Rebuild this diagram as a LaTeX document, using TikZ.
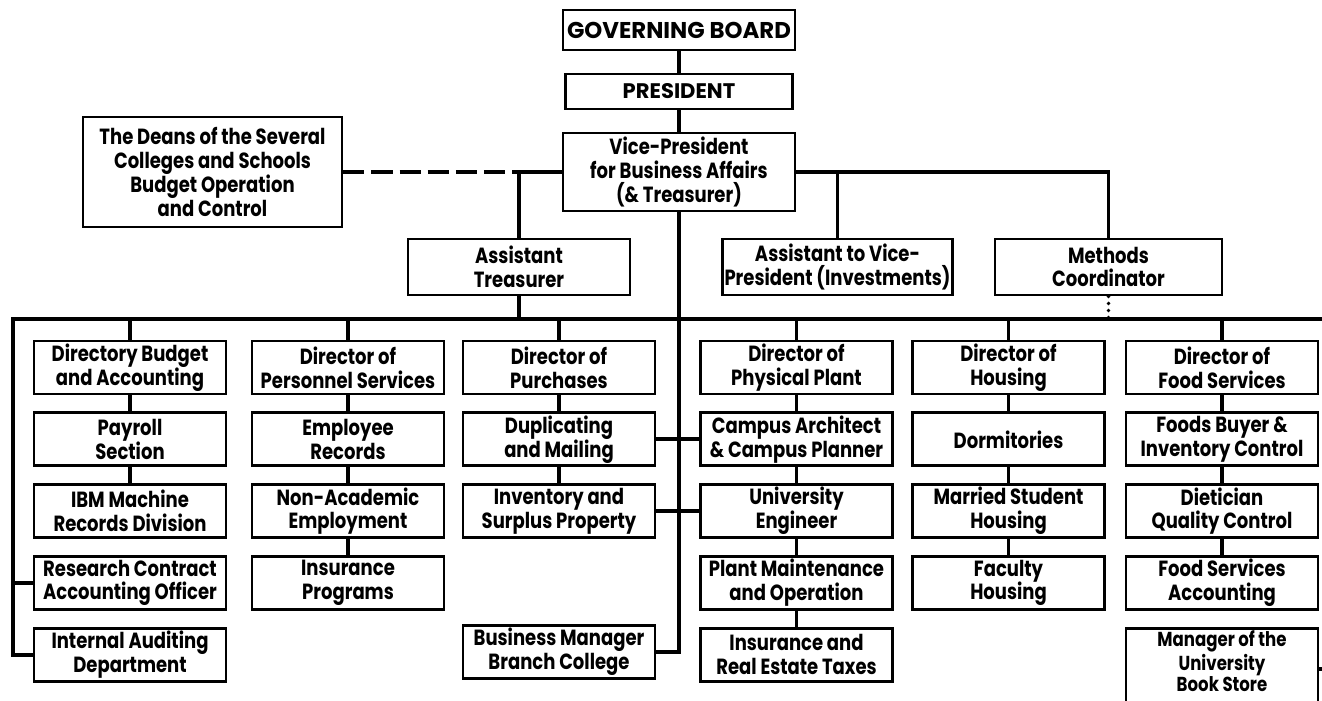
\documentclass[tikz,border=0pt]{standalone}
\usepackage{fontspec}
\setmainfont{Poppins}[FakeStretch=0.82]
\newfontfamily\widecaps{Poppins}
\usetikzlibrary{positioning}

\tikzset{
  office/.style={draw, line width=1.6pt, align=center, inner sep=1pt,
    font=\bfseries\fontsize{12.5}{13.6}\selectfont},
  dept/.style={office, minimum width=3.84cm, minimum height=1.06cm},
  link/.style={line width=2.2pt},
}

\begin{document}
\begin{tikzpicture}[x=0.02cm, y=-0.02cm]
    \useasboundingbox (0,0) rectangle (1322,700);
    \fill[white] (0,0) rectangle (1322,700);
    \clip (0,0) rectangle (1322,700);

    % top of the chart
    \node[office, minimum width=4.64cm, minimum height=0.8cm, font=\widecaps\bfseries\fontsize{13}{15}\selectfont] (gb) at (679,30) {GOVERNING BOARD};
    \node[office, minimum width=4.54cm, minimum height=0.7cm, font=\widecaps\bfseries\fontsize{12}{14}\selectfont] (pres) at (679,91.5) {PRESIDENT};
    \node[office, minimum width=4.64cm, minimum height=1.56cm] (vp) at (679,172) {Vice-President\\for Business Affairs\\(\& Treasurer)};
    \node[office, minimum width=5.18cm, minimum height=2.2cm] (deans) at (212.5,172) {The Deans of the Several\\Colleges and Schools\\Budget Operation\\and Control};
    \node[office, minimum width=4.44cm, minimum height=1.12cm] (atr) at (519,267) {Assistant\\Treasurer};
    \node[office, minimum width=4.46cm, minimum height=1.12cm] (avp) at (837.5,267) {Assistant to Vice-\\President (Investments)};
    \node[office, minimum width=4.54cm, minimum height=1.12cm] (mc) at (1108.5,267) {Methods\\Coordinator};

    % budget and accounting
    \node[dept] (dba) at (130,367.5) {Directory Budget\\and Accounting};
    \node[dept, below=0.32cm of dba] (pay) {Payroll\\Section};
    \node[dept, below=0.32cm of pay] (ibm) {IBM Machine\\Records Division};
    \node[dept, below=0.32cm of ibm] (rca) {Research Contract\\Accounting Officer};
    \node[dept, below=0.32cm of rca] (iad) {Internal Auditing\\Department};

    % personnel
    \node[dept] (dps) at (348,367.5) {Director of\\Personnel Services};
    \node[dept, below=0.32cm of dps] (emp) {Employee\\Records};
    \node[dept, below=0.32cm of emp] (nae) {Non-Academic\\Employment};
    \node[dept, below=0.32cm of nae] (ins) {Insurance\\Programs};

    % purchases
    \node[dept] (dpu) at (559,367.5) {Director of\\Purchases};
    \node[dept, below=0.32cm of dpu] (dup) {Duplicating\\and Mailing};
    \node[dept, below=0.32cm of dup] (inv) {Inventory and\\Surplus Property};
    \node[dept] (bmbc) at (559,652) {Business Manager\\Branch College};

    % physical plant
    \node[dept] (dpp) at (796.5,367.5) {Director of\\Physical Plant};
    \node[dept, below=0.32cm of dpp] (caa) {Campus Architect\\\& Campus Planner};
    \node[dept, below=0.32cm of caa] (ue) {University\\Engineer};
    \node[dept, below=0.32cm of ue] (pmo) {Plant Maintenance\\and Operation};
    \node[dept, below=0.32cm of pmo] (iret) {Insurance and\\Real Estate Taxes};

    % housing
    \node[dept] (dh) at (1008.5,367.5) {Director of\\Housing};
    \node[dept, below=0.32cm of dh] (dorm) {Dormitories};
    \node[dept, below=0.32cm of dorm] (msh) {Married Student\\Housing};
    \node[dept, below=0.32cm of msh] (fh) {Faculty\\Housing};

    % food services, the book store runs off the bottom edge
    \node[dept] (dfs) at (1222,367.5) {Director of\\Food Services};
    \node[dept, below=0.32cm of dfs] (fbi) {Foods Buyer \&\\Inventory Control};
    \node[dept, below=0.32cm of fbi] (dqc) {Dietician\\Quality Control};
    \node[dept, below=0.32cm of dqc] (fsa) {Food Services\\Accounting};
    \node[dept, inner xsep=1pt, inner ysep=1.5pt, text depth=12pt, below=0.32cm of fsa,
        font=\bfseries\fontsize{11.5}{12}\selectfont] (mbs) {Manager of the\\University\\Book Store};

    % line of authority from the board down
    \draw[link] (gb) -- (pres);
    \draw[link] (pres) -- (vp);
    \draw[link] (vp.south) |- (bmbc.east);
    \draw[link] (vp.west) -| (atr.north);
    \draw[link] (vp.east) -| (mc.north);
    \draw[link] (avp.north) |- (vp.east);
    % dashed link to the deans
    \coordinate (atj) at (atr.north |- vp.west);
    \draw[link, dash pattern=on 12pt off 4pt] (deans.east) -- (atj);

    % the long bus under the assistants
    \coordinate (busw) at (13,319);
    \coordinate (buse) at (1334,319);
    \draw[link] (buse) -- (busw) |- (iad.west);
    \draw[link] (buse) |- ([yshift=-0.84cm]mbs.north east);
    \draw[link] (rca.west) -- (rca.west -| busw);
    \draw[link] (atr.south) -- (atr.south |- busw);
    \draw[link, line cap=round, dash pattern=on 0pt off 4pt] (mc.south) -- (mc.south |- busw);
    \foreach \d in {dba,dps,dpu,dpp,dh,dfs}
        \draw[link] (\d.north) -- (\d.north |- busw);

    % up to down chains
    \foreach \a/\b in {dba/pay, pay/ibm, dps/emp, emp/nae, nae/ins, dpu/dup, dup/inv,
        dpp/caa, caa/ue, ue/pmo, pmo/iret, dh/dorm, dorm/msh, msh/fh, dfs/fbi, fbi/dqc, dqc/fsa}
        \draw[link] (\a) -- (\b);

    % across the trunk
    \draw[link] (dup) -- (caa);
    \draw[link] (inv) -- (ue);
\end{tikzpicture}
\end{document}
